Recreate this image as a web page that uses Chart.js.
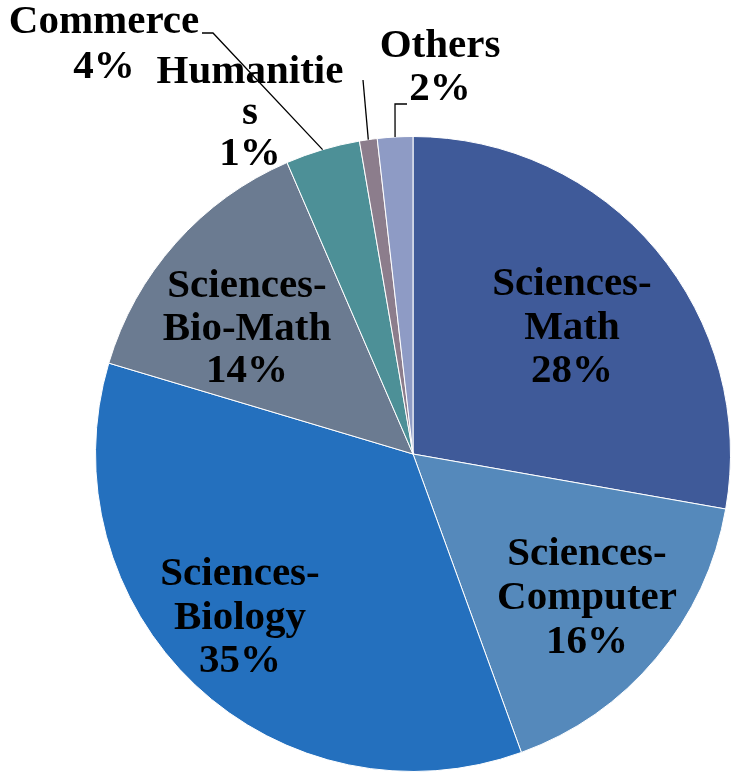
<!DOCTYPE html>
<html>
<head>
<meta charset="utf-8">
<script src="https://cdn.jsdelivr.net/npm/chart.js@4"></script>
<style>
  body { margin: 0; background: #fff; }
</style>
</head>
<body>
<canvas id="pie" width="731" height="774"></canvas>
<script>
const categories = ['Sciences-Math', 'Sciences-Computer', 'Sciences-Biology', 'Sciences-Bio-Math', 'Commerce', 'Humanities', 'Others'];
// slice sizes as read from the slice edges
const shares = [27.8, 16.7, 35.2, 13.9, 3.8, 0.9, 1.8];
// percentages as printed on the chart
const percentLabels = ['28%', '16%', '35%', '14%', '4%', '1%', '2%'];
const colors = ['#3F5A99', '#5589BB', '#2470BE', '#6B7B91', '#4D9097', '#8C7D8C', '#8E9BC5'];

// the way the labels wrap in the original picture
const labelLines = [['Sciences-', 'Math'], ['Sciences-', 'Computer'], ['Sciences-', 'Biology'], ['Sciences-', 'Bio-Math'], ['Commerce'], ['Humanitie', 's'], ['Others']];
// label centre x and first baseline y, then line pitch
const labelPos = [[572, 295], [587, 565], [240, 585], [247, 297], [104, 33], [250, 83], [440, 57]];
const linePitch = [43.5, 44, 43.5, 42.5, 45, 41, 43];
// leader lines: points from the label, the last point is the slice edge
const leaders = { 4: [[202, 33], [213, 33]], 5: [[363, 80]], 6: [[407, 104], [395, 104]] };

const labelPlugin = {
    id: 'pieLabels',
    afterDatasetsDraw(chart) {
        const ctx = chart.ctx;
        const arcs = chart.getDatasetMeta(0).data;
        ctx.save();
        ctx.strokeStyle = '#000';
        ctx.lineWidth = 1.3;
        for (let i = 0; i < arcs.length; i++) {
            const pts = leaders[i];
            if (!pts) continue;
            const a = arcs[i];
            const mid = (a.startAngle + a.endAngle) / 2;
            ctx.beginPath();
            ctx.moveTo(pts[0][0], pts[0][1]);
            for (let p = 1; p < pts.length; p++) ctx.lineTo(pts[p][0], pts[p][1]);
            ctx.lineTo(a.x + Math.cos(mid) * a.outerRadius, a.y + Math.sin(mid) * a.outerRadius);
            ctx.stroke();
        }
        ctx.fillStyle = '#000';
        ctx.font = 'bold 41px "Liberation Serif"';
        ctx.textAlign = 'center';
        ctx.textBaseline = 'alphabetic';
        for (let i = 0; i < arcs.length; i++) {
            const lines = labelLines[i].concat([percentLabels[i]]);
            const x = labelPos[i][0];
            let y = labelPos[i][1];
            lines.forEach(t => {
                ctx.fillText(t, x, y);
                y += linePitch[i];
            });
        }
        ctx.restore();
    }
};

var ctx = document.getElementById('pie').getContext('2d');
var myChart = new Chart(ctx, {
    type: 'pie',
    data: {
        labels: categories,
        datasets: [{
            data: shares,
            backgroundColor: colors,
            borderColor: '#ffffff',
            borderWidth: 1
        }]
    },
    options: {
        responsive: false,
        animation: false,
        layout: { padding: { left: 95, top: 136, right: 0, bottom: 2 } },
        plugins: {
            legend: { display: false },
            tooltip: { enabled: false }
        }
    },
    plugins: [labelPlugin]
});
</script>
</body>
</html>
